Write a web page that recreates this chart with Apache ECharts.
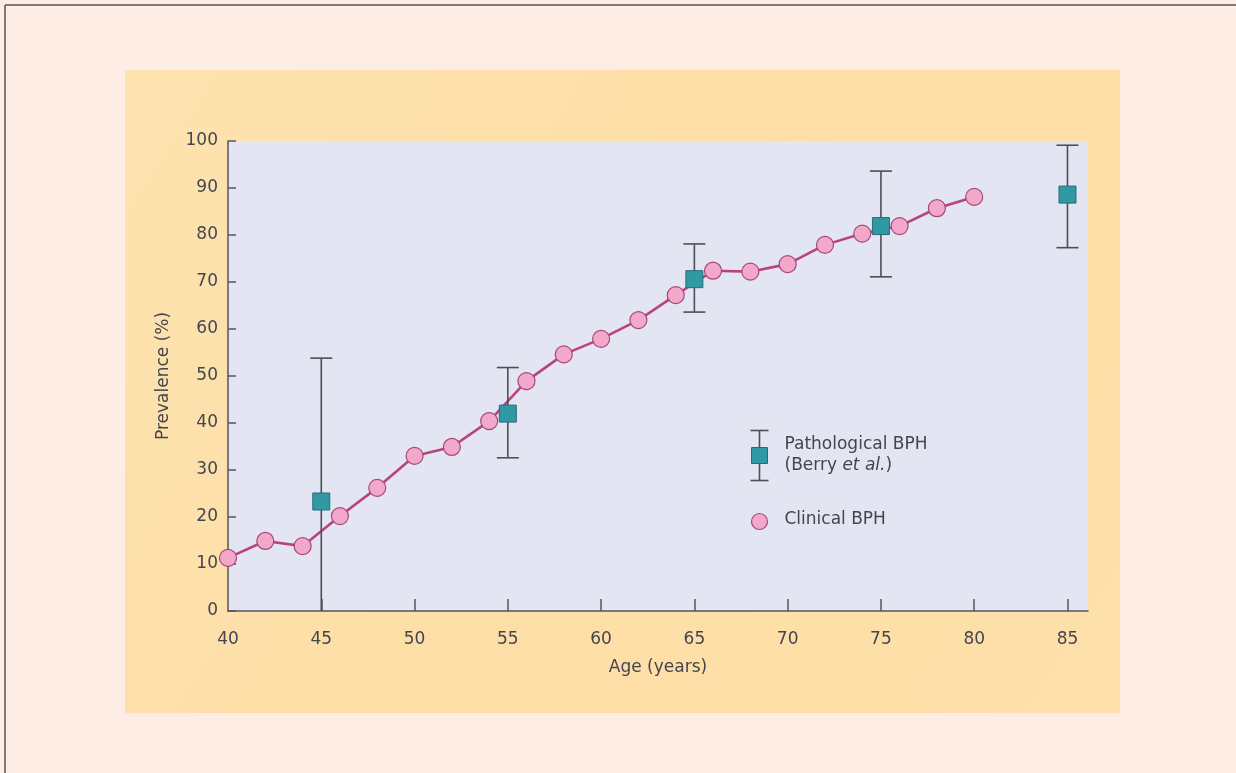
<!DOCTYPE html>
<html>
<head>
<meta charset="utf-8">
<script src="https://cdn.jsdelivr.net/npm/echarts@6/dist/echarts.min.js"></script>
<style>
html,body{margin:0;padding:0;background:#fdede4;}
#c{width:1236px;height:773px;}
</style>
</head>
<body>
<div id="c"></div>
<script>
// Clinical BPH (circles joined by a line)
const clinicalAges = [40,42,44,46,48,50,52,54,56,58,60,62,64,66,68,70,72,74,76,78,80];
const clinicalValues = [11.3,14.9,13.8,20.2,26.2,33.0,34.9,40.4,48.9,54.6,57.9,61.9,67.2,72.4,72.2,73.8,77.9,80.3,81.9,85.7,88.1];

// Pathological BPH (Berry et al.) with error bars
const pathAges = [45,55,65,75,85];
const pathValues = [23.3,42.0,70.6,81.9,88.6];
const pathLow = [0,32.6,63.6,71.1,77.3];
const pathHigh = [53.8,51.8,78.1,93.6,99.1];

const xTicks = [40,45,50,55,60,65,70,75,80,85];
const yTicks = [0,10,20,30,40,50,60,70,80,90,100];

const FONT = 'DejaVu Sans';
const TXT = '#45454f';
const AXIS = '#55555d';

const chart = echarts.init(document.getElementById('c'), null, {renderer:'canvas'});

const clinicalData = clinicalAges.map((a,i)=>[a, clinicalValues[i]]);
const pathData = pathAges.map((a,i)=>[a, pathValues[i]]);
const errData = pathAges.map((a,i)=>[a, pathLow[i], pathHigh[i]]);

chart.setOption({
  backgroundColor:'#fdede4',
  animation:false,
  graphic:[
    {type:'line', z:-10, shape:{x1:5,y1:5,x2:1236,y2:5}, style:{stroke:'#7f7a76', lineWidth:2}},
    {type:'line', z:-10, shape:{x1:5,y1:5,x2:5,y2:773}, style:{stroke:'#7f7a76', lineWidth:2}},
    {type:'rect', z:-10, shape:{x:125,y:70,width:995,height:643},
      style:{fill:new echarts.graphic.LinearGradient(0,0,1,1,[
        {offset:0,color:'#fde3b0'},{offset:0.5,color:'#fddea6'},{offset:1,color:'#fde0aa'}])}},
    // legend drawing
    {type:'group', left:748, top:428, z:50, children:[
      {type:'line', shape:{x1:12,y1:1,x2:12,y2:51}, style:{stroke:'#4a5058', lineWidth:1.6}},
      {type:'line', shape:{x1:3,y1:1,x2:21,y2:1}, style:{stroke:'#4a5058', lineWidth:1.6}},
      {type:'line', shape:{x1:3,y1:51,x2:21,y2:51}, style:{stroke:'#4a5058', lineWidth:1.6}},
      {type:'rect', shape:{x:4,y:18,width:16,height:16}, style:{fill:'#2f9aa4', stroke:'#2d6a76', lineWidth:1}},
      {type:'circle', shape:{cx:12,cy:92,r:8}, style:{fill:'#f2a9c9', stroke:'#a8457c', lineWidth:1.2}},
      {type:'text', x:37, y:7, style:{text:'Pathological BPH', font:'17px "DejaVu Sans"', fill:TXT}},
      {type:'text', x:37, y:28, style:{text:'{a|(Berry }{i|et al.}{a|)}', fill:TXT,
        rich:{a:{fontFamily:FONT,fontSize:17,color:TXT}, i:{fontFamily:FONT,fontSize:17,fontStyle:'italic',color:TXT}}}},
      {type:'text', x:37, y:82, style:{text:'Clinical BPH', font:'17px "DejaVu Sans"', fill:TXT}}
    ]}
  ],
  grid:{left:228, right:148, top:141, bottom:162, show:true, backgroundColor:'#e3e5f2', borderWidth:0},
  xAxis:{
    type:'value', min:40, max:86.1,
    name:'Age (years)', nameLocation:'middle', nameGap:48,
    nameTextStyle:{fontFamily:FONT, fontSize:17, color:TXT},
    axisLine:{show:true, onZero:false, lineStyle:{color:AXIS, width:1.5}},
    axisTick:{show:true, inside:true, length:12, customValues:xTicks.slice(1), lineStyle:{color:AXIS, width:1.5}},
    axisLabel:{customValues:xTicks, margin:20, fontFamily:FONT, fontSize:17, color:TXT},
    splitLine:{show:false}
  },
  yAxis:{
    type:'value', min:0, max:100, interval:10,
    name:'Prevalence (%)', nameLocation:'middle', nameGap:56, nameRotate:90,
    nameTextStyle:{fontFamily:FONT, fontSize:17, color:TXT},
    axisLine:{show:true, lineStyle:{color:AXIS, width:1.5}},
    axisTick:{show:true, inside:true, length:8, lineStyle:{color:AXIS, width:1.5}},
    axisLabel:{margin:10, fontFamily:FONT, fontSize:17, color:TXT},
    splitLine:{show:false}
  },
  series:[
    {
      name:'Clinical BPH', type:'line', data:clinicalData, z:3,
      symbol:'circle', symbolSize:17, showAllSymbol:true,
      lineStyle:{color:'#b8437f', width:2.6},
      itemStyle:{color:'#f2a9c9', borderColor:'#a8457c', borderWidth:1.2}
    },
    {
      name:'Pathological BPH error', type:'custom', data:errData, z:4,
      renderItem:function(params, api){
        const x = api.value(0);
        const lo = api.coord([x, api.value(1)]);
        const hi = api.coord([x, api.value(2)]);
        const cap = 11;
        const st = {stroke:'#4a5058', lineWidth:1.6};
        const kids = [
          {type:'line', shape:{x1:lo[0],y1:lo[1],x2:hi[0],y2:hi[1]}, style:st},
          {type:'line', shape:{x1:hi[0]-cap,y1:hi[1],x2:hi[0]+cap,y2:hi[1]}, style:st}
        ];
        if (api.value(1) > 0) {
          kids.push({type:'line', shape:{x1:lo[0]-cap,y1:lo[1],x2:lo[0]+cap,y2:lo[1]}, style:st});
        }
        return {type:'group', children:kids};
      }
    },
    {
      name:'Pathological BPH', type:'scatter', data:pathData, z:5,
      symbol:'rect', symbolSize:17,
      itemStyle:{color:'#2f9aa4', borderColor:'#2d6a76', borderWidth:1, opacity:1}
    }
  ]
});
</script>
</body>
</html>
